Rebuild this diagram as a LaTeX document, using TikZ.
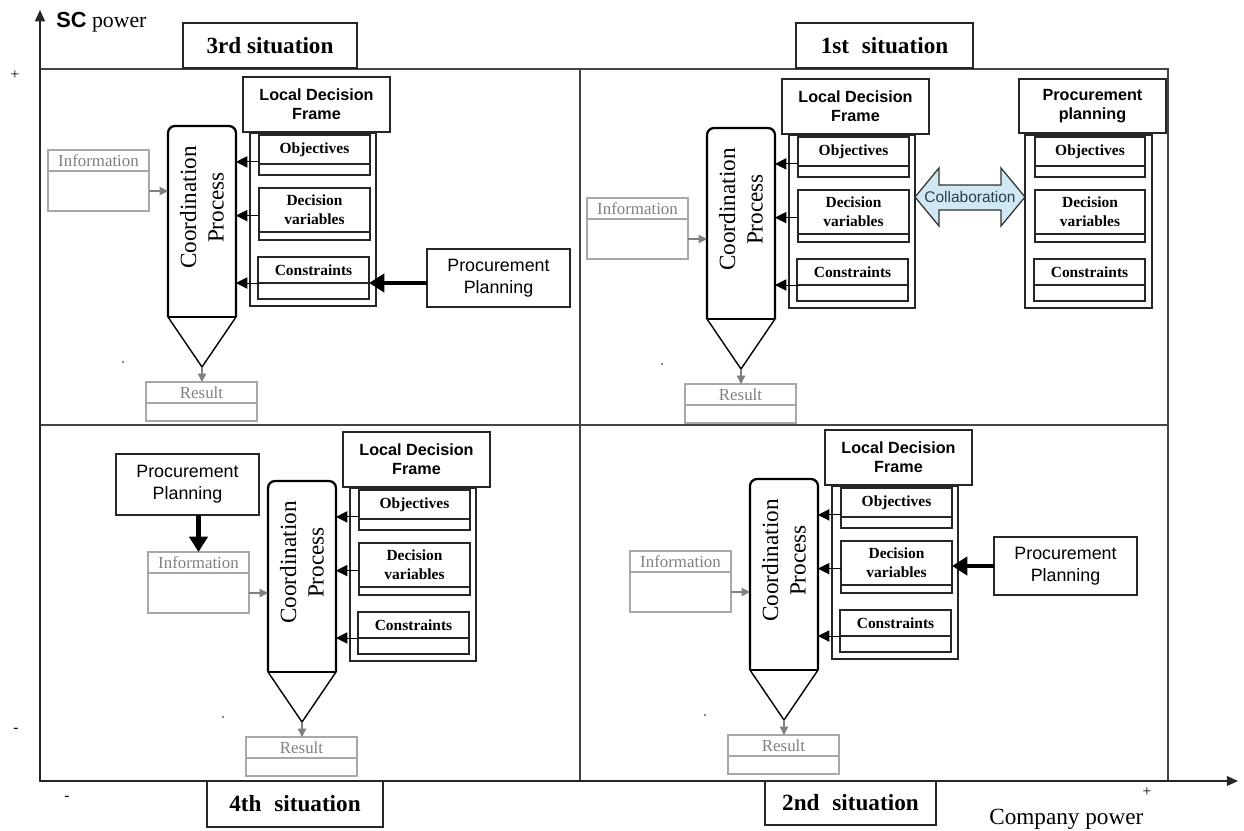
\documentclass[tikz,border=0pt]{standalone}
\usepackage{fontspec}
\setmainfont{Liberation Serif}
\setsansfont{Liberation Sans}
\usetikzlibrary{arrows.meta,calc}
\definecolor{qline}{HTML}{444444}
\definecolor{gbox}{HTML}{A8A8A8}
\definecolor{gtext}{HTML}{808080}
\definecolor{collabfill}{HTML}{CFE8F3}
\definecolor{collabtext}{HTML}{2E3D4B}
\newcommand\bx[7]{\node[#6, anchor=north west, inner sep=0pt, outer sep=0pt, minimum width={((#4)-(#2))*0.025cm}, minimum height={((#5)-(#3))*0.025cm}] (#1) at (#2,#3) {#7};}
\tikzset{
 ctr/.style={draw=black!85, line width=1.1pt, fill=white},
 hdr/.style={draw=black!85, line width=1.1pt, fill=white, align=center, font=\sffamily\bfseries\fontsize{11.5}{13.5}\selectfont},
 itembox/.style={draw=black!85, line width=1.1pt, fill=white, align=center, font=\bfseries\fontsize{11}{13.5}\selectfont},
 gitem/.style={draw=gbox, line width=0.8pt, fill=white, text=gtext, font=\fontsize{12}{14}\selectfont},
 ppbox/.style={draw=black!85, line width=1.1pt, fill=white, align=center, font=\sffamily\fontsize{12.7}{15.5}\selectfont},
 sit/.style={draw=black!85, line width=1.4pt, fill=white, font=\bfseries\fontsize{16.5}{19}\selectfont},
 cptext/.style={rotate=90, align=center, inner sep=0pt, font=\fontsize{16.5}{19.5}\selectfont},
 sarr/.style={-{Triangle[length=8pt,width=8pt]}, line width=0.7pt},
 garr/.style={-{Triangle[length=6pt,width=6pt]}, draw=gray, line width=0.8pt},
 barr/.style={-{Triangle[length=11pt,width=13pt]}, line width=3.5pt},
 axis/.style={-{Triangle[length=8pt,width=7pt]}, line width=1.1pt, draw=black!85},
 qframe/.style={draw=qline, line width=1.1pt},
 collab/.style={draw=black!80, line width=0.9pt, fill=collabfill, line join=miter},
 collabtxt/.style={text=collabtext, inner sep=0pt, font=\sffamily\fontsize{11}{13}\selectfont},
 sign/.style={inner sep=0pt, font=\fontsize{11}{13}\selectfont},
}
\newcommand\quadrant[4]{%
\begin{scope}[shift={(#2,#3)}]
 \bx{ctr#1}{82}{7}{208}{180}{ctr}{}
 \bx{ldf#1}{75}{-49}{222}{6}{hdr}{Local Decision\\Frame}
 \bx{obj#1}{91}{9}{202}{38}{itembox}{Objectives}
 \bx{objb#1}{91}{38}{202}{49}{itembox}{}
 \bx{dv#1}{91}{62}{202}{106}{itembox}{Decision\\variables}
 \bx{dvb#1}{91}{106}{202}{114}{itembox}{}
 \bx{con#1}{90}{131}{201}{157}{itembox}{Constraints}
 \bx{conb#1}{90}{157}{201}{173}{itembox}{}
 \bx{cp#1}{0}{0}{68}{191}{}{}
 \draw[line width=1.6pt, rounded corners=5pt] (cp#1.south west) -- (cp#1.north west) -- (cp#1.north east) -- (cp#1.south east);
 \draw[line width=1.6pt] (cp#1.south west) -- (cp#1.south east);
 \coordinate (apex#1) at (34,241);
 \draw[line width=1pt, line join=miter] (cp#1.south west) -- (apex#1) -- (cp#1.south east);
 \node[cptext] (cpt#1) at ($(cp#1.center)+(0,-14)$) {Coordination\\Process};
 \coordinate (oa#1) at ([yshift=1.5pt]obj#1.south west);
 \draw[sarr] (oa#1) -- (oa#1 -| cp#1.east);
 \coordinate (da#1) at ([yshift=-4pt]dv#1.west);
 \draw[sarr] (da#1) -- (da#1 -| cp#1.east);
 \draw[sarr] (con#1.south west) -- (con#1.south west -| cp#1.east);
 \bx{inf#1}{-120}{#4}{-19}{#4+21}{gitem}{Information}
 \bx{infb#1}{-120}{#4+21}{-19}{#4+61}{gitem}{}
 \draw[garr] (infb#1.east) -- (infb#1.east -| cp#1.west);
 \bx{res#1}{-22}{256}{89}{277}{gitem}{Result}
 \bx{resb#1}{-22}{277}{89}{295}{gitem}{}
 \draw[garr] (apex#1) -- (apex#1 |- res#1.north);
 \fill[black!60] (-45,236) circle (0.8pt);
\end{scope}}

\begin{document}
\begin{tikzpicture}[x=0.025cm, y=-0.025cm]
\fill[white] (0,0) rectangle (1244,830);
% quadrant frames
\draw[qframe] (40,69) rectangle (1168,781);
\draw[qframe] (580,69) -- (580,781);
\draw[qframe] (40,425) -- (1168,425);
% axes
\coordinate (O) at (40,781);
\coordinate (ytop) at (40,10);
\coordinate (xend) at (1238,781);
\draw[axis] (O) -- (ytop);
\draw[axis] (O) -- (xend);
\node[anchor=base west, inner sep=0pt, font=\fontsize{15.5}{18}\selectfont] (scp) at (56,27) {{\sffamily\bfseries SC} power};
\node[anchor=base west, inner sep=0pt, font=\fontsize{16.5}{19}\selectfont] (cop) at (989,824) {Company power};
\node[sign] (pl1) at (15,75) {+};
\node[sign] (mi1) at (16,730) {-};
\node[sign] (mi2) at (67,798) {-};
\node[sign] (pl2) at (1147,792) {+};

\quadrant{3}{168}{126}{24}
\quadrant{1}{707}{128}{70}
\quadrant{4}{268}{481}{71}
\quadrant{2}{750}{479}{72}

% first situation: procurement planning frame and collaboration
\begin{scope}[shift={(707,128)}]
 \bx{rctr}{318}{7}{445}{180}{ctr}{}
 \bx{pph}{312}{-49}{459}{5}{hdr}{Procurement\\planning}
 \bx{robj}{328}{9}{438}{38}{itembox}{Objectives}
 \bx{robjb}{328}{38}{438}{49}{itembox}{}
 \bx{rdv}{328}{62}{438}{106}{itembox}{Decision\\variables}
 \bx{rdvb}{328}{106}{438}{114}{itembox}{}
 \bx{rcon}{327}{131}{438}{157}{itembox}{Constraints}
 \bx{rconb}{327}{157}{438}{173}{itembox}{}
 \coordinate (cL) at (ctr1.east |- 0,69);
 \coordinate (cR) at (rctr.west |- 0,69);
 \draw[collab] (cL) -- ++(24,-29) -- ++(0,17) -- ($(cR)+(-24,-12)$) -- ++(0,-17) -- (cR) -- ++(-24,29) -- ++(0,-16) -- ($(cL)+(24,13)$) -- ++(0,16) -- cycle;
 \node[collabtxt] (col) at ($(cL)!0.5!(cR)$) {Collaboration};
\end{scope}

% procurement planning boxes
\bx{pp3}{427}{249}{570}{307}{ppbox}{Procurement\\Planning}
\draw[barr] (pp3.west |- con3.south) -- (con3.south east);
\bx{pp4}{116}{454}{259}{515}{ppbox}{Procurement\\Planning}
\draw[barr] (pp4.south -| inf4.north) -- (inf4.north);
\bx{pp2}{994}{537}{1137}{595}{ppbox}{Procurement\\Planning}
\draw[barr] (pp2.west) -- (pp2.west -| dv2.east);

% situation labels
\bx{s3}{183}{23}{357}{68}{sit}{3rd situation}
\bx{s1}{796}{23}{973}{68}{sit}{1st\hspace{0.55em}situation}
\bx{s4}{207}{781}{383}{827}{sit}{4th\hspace{0.55em}situation}
\bx{s2}{765}{781}{936}{825}{sit}{2nd\hspace{0.55em}situation}
\end{tikzpicture}
\end{document}
